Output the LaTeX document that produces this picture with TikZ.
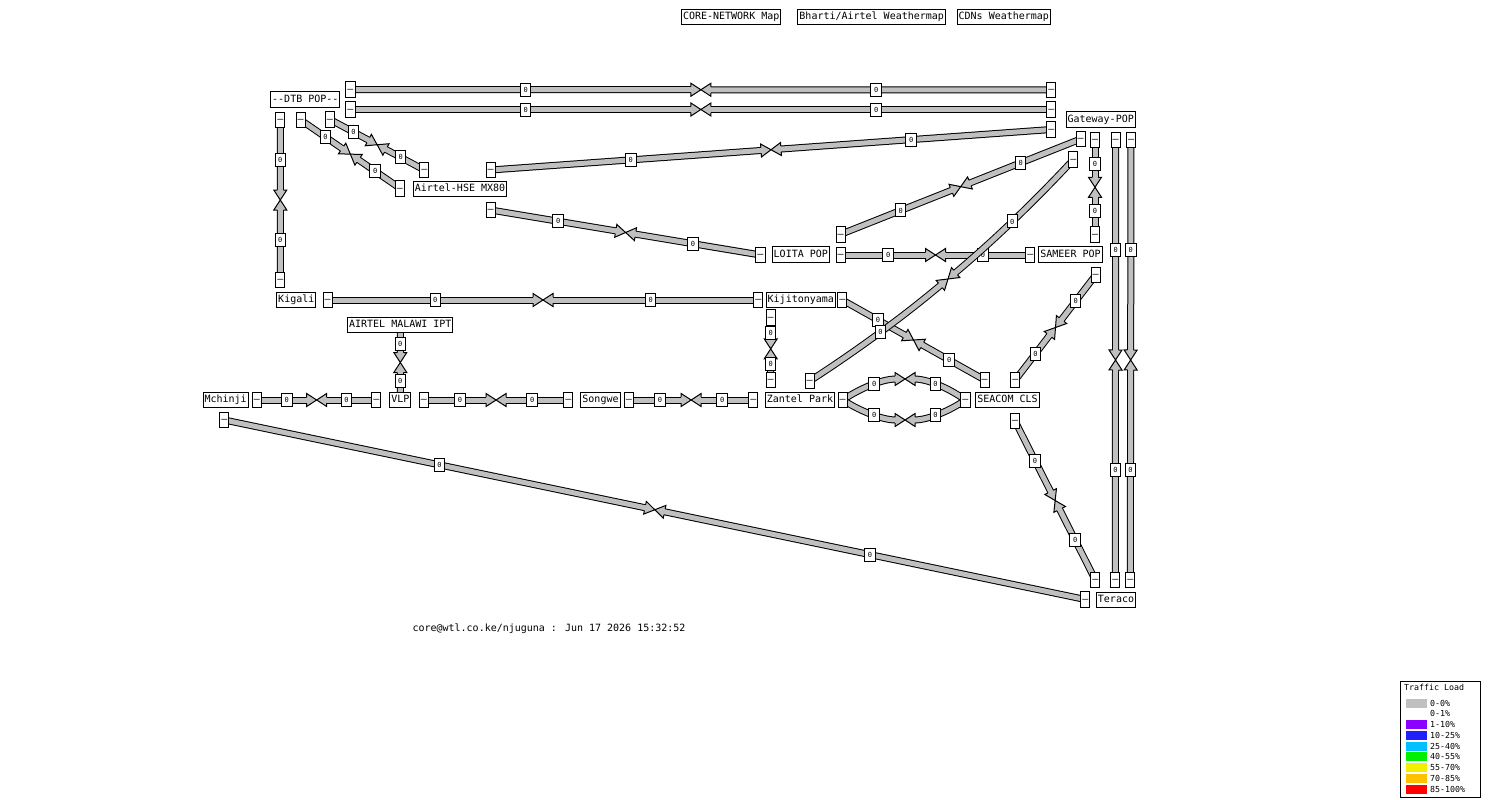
\documentclass[tikz,border=0pt]{standalone}
\usepackage{fontspec}
\usepackage{tikz}
\usetikzlibrary{calc, backgrounds}

\newfontfamily\wmono{DejaVu Sans Mono}[Ligatures=TeXOff]
\definecolor{wgray}{RGB}{192,192,192}
\definecolor{lpurple}{RGB}{140,0,255}
\definecolor{lblue}{RGB}{32,32,255}
\definecolor{lcyan}{RGB}{0,192,255}
\definecolor{lgreen}{RGB}{0,240,0}
\definecolor{lyellow}{RGB}{240,240,0}
\definecolor{lorange}{RGB}{255,192,0}
\definecolor{lred}{RGB}{255,0,0}

\tikzset{
  wnode/.style={draw, fill=white, line width=1pt, inner xsep=1.5pt, inner ysep=0pt,
    minimum height=15.7pt, text height=7.3pt, text depth=1.8pt,
    font=\wmono\fontsize{10}{10}\selectfont},
  wval/.style={draw, fill=white, line width=1pt, inner sep=0pt, minimum width=10.5pt,
    minimum height=13pt, font=\wmono\fontsize{7}{7}\selectfont},
  wbody/.style={line width=1pt, double=wgray, double distance=5pt},
  whead/.style={fill=wgray, draw=black, line width=1pt, line join=miter},
  lgd/.style={inner sep=0pt, anchor=west, font=\wmono\fontsize{8.3}{8.3}\selectfont},
}

% one half of a link, from #1 to the tip (wm), bent by #2
\newcommand\whalf[2]{%
  \draw[wbody, shorten >=9.5pt] (#1.center) .. controls ($(#1.center)!2/3!(#2)$) and ($(wm)!2/3!(#2)$) .. (wm);
  \coordinate (wb) at ($(wm)!10pt!(#2)$);
  \filldraw[whead] ($(wb)!3pt!90:(wm)$) -- ($(wb)!6.5pt!90:(wm)$) -- (wm)
    -- ($(wb)!6.5pt!-90:(wm)$) -- ($(wb)!3pt!-90:(wm)$);
  \path (#1.center) .. controls ($(#1.center)!2/3!(#2)$) and ($(wm)!2/3!(#2)$) .. (wm) node[wval, pos=.5] {0};
}
% link #1 -> #3 through via #2
\newcommand\wvia[3]{%
  \coordinate (wm) at ($0.25*(#1.center)+0.5*(#2)+0.25*(#3.center)$);
  \coordinate (wqa) at ($(#1.center)!.5!(#2)$);
  \coordinate (wqb) at ($(#3.center)!.5!(#2)$);
  \whalf{#1}{wqa}
  \whalf{#3}{wqb}
}
\newcommand\wlink[2]{%
  \coordinate (wq) at ($(#1.center)!.5!(#2.center)$);
  \wvia{#1}{wq}{#2}
}

\begin{document}
\begin{tikzpicture}[x=1pt, y=-1pt]
  \useasboundingbox (0,0) rectangle (1500,800);

  % Top buttons
  \node[wnode] (btnCore) at (731.2,17) {CORE-NETWORK Map};
  \node[wnode] (btnBharti) at (871.7,17) {Bharti/Airtel Weathermap};
  \node[wnode] (btnCdn) at (1003.8,17) {CDNs Weathermap};

  % Sites
  \node[wnode] (dtb) at (305.3,99.5) {--DTB POP--};
  \node[wnode] (gw) at (1100.7,119.7) {Gateway-POP};
  \node[wnode] (hse) at (460,189) {Airtel-HSE MX80};
  \node[wnode] (loita) at (800.8,254.7) {LOITA POP};
  \node[wnode] (sameer) at (1070.5,254.7) {SAMEER POP};
  \node[wnode] (kigali) at (296.3,300) {Kigali};
  \node[wnode] (kiji) at (800.8,300) {Kijitonyama};
  \node[wnode] (ipt) at (400.3,325) {AIRTEL MALAWI IPT};
  \node[wnode] (mchinji) at (225.7,400) {Mchinji};
  \node[wnode] (vlp) at (400.3,400) {VLP};
  \node[wnode] (songwe) at (600.5,400) {Songwe};
  \node[wnode] (zantel) at (800,400) {Zantel Park};
  \node[wnode] (seacom) at (1007.5,400) {SEACOM CLS};
  \node[wnode] (teraco) at (1116,600) {Teraco};

  % Link ends
  \foreach \n/\x/\y in {dtbA/280.3/120, dtbB/300.7/120, dtbC/330/119.5,
      topL1/350.5/89.5, topL2/350.5/109.5,
      topR1/1051.3/90, topR2/1051.3/109.5, topR3/1051.3/129.5,
      hseA/424.3/170, hseB/400/188.3, hseC/490.7/170, hseD/490.7/210,
      loitaA/760.5/255, loitaB/840.7/234.3, loitaC/840.7/255,
      sameerA/1030.3/255, sameerB/1095.7/275,
      gwA/1080.7/139, gwB/1073.3/159.7, gwC/1095/140, gwD/1115.7/140,
      gwE/1131/140, gwF/1095/234.5,
      kigA/280.3/280, kigB/327.7/300,
      kijiA/758.3/300, kijiB/842.3/300, kijiC/770.7/317.7,
      zanA/770.7/380, zanB/809.7/381, zanC/753.3/400, zanD/842.7/400,
      seaA/984.7/380, seaB/1015.3/380, seaC/965.5/400, seaD/1015/421,
      terA/1085.3/599.5, terB/1095.3/580, terC/1115.3/580, terD/1130.3/580,
      mchA/257/400, mchB/224.3/420, vlpA/376.3/400, vlpB/423.8/400,
      sonA/568.3/400, sonB/629/400}
    \node[wnode] (\n) at (\x,\y) {\char"2013};

  \coordinate (viaDiag) at (954.5,287.6);
  \coordinate (viaUp) at (906,358);
  \coordinate (viaDn) at (906,440);

  % Links
  \begin{pgfonlayer}{background}
    \fill[white] (0,0) rectangle (1500,800);
    \wlink{topL1}{topR1}
    \wlink{topL2}{topR2}
    \wlink{hseC}{topR3}
    \wlink{dtbA}{kigA}
    \wlink{dtbB}{hseB}
    \wlink{dtbC}{hseA}
    \wlink{hseD}{loitaA}
    \wlink{loitaB}{gwA}
    \wlink{loitaC}{sameerA}
    \wlink{gwC}{gwF}
    \wlink{gwD}{terC}
    \wlink{gwE}{terD}
    \wlink{kigB}{kijiA}
    \wlink{kijiB}{seaA}
    \wlink{kijiC}{zanA}
    \wlink{sameerB}{seaB}
    \wvia{gwB}{viaDiag}{zanB}
    \wlink{ipt}{vlp}
    \wlink{mchA}{vlpA}
    \wlink{vlpB}{sonA}
    \wlink{sonB}{zanC}
    \wvia{zanD}{viaUp}{seaC}
    \wvia{zanD}{viaDn}{seaC}
    \wlink{mchB}{terA}
    \wlink{seaD}{terB}
  \end{pgfonlayer}

  % Footer
  \node[font=\wmono\fontsize{10}{10}\selectfont, inner sep=0pt] (stamp) at (549,629)
    {core@wtl.co.ke/njuguna : Jun 17 2026 15:32:52};

  % Legend
  \draw[line width=1pt, fill=white] (1400.5,681.2) rectangle (1480.2,797.8);
  \node[lgd] (lgdTitle) at (1404,687.5) {Traffic Load};
  \foreach \c/\t [count=\i] in {wgray/0-0\%, white/0-1\%, lpurple/1-10\%,
      lblue/10-25\%, lcyan/25-40\%, lgreen/40-55\%, lyellow/55-70\%,
      lorange/70-85\%, lred/85-100\%} {
    \fill[\c] (1406,{698.5+10.75*(\i-1)}) rectangle +(20.5,9);
    \node[lgd] at (1430,{703+10.75*(\i-1)}) {\t};
  }
\end{tikzpicture}
\end{document}
